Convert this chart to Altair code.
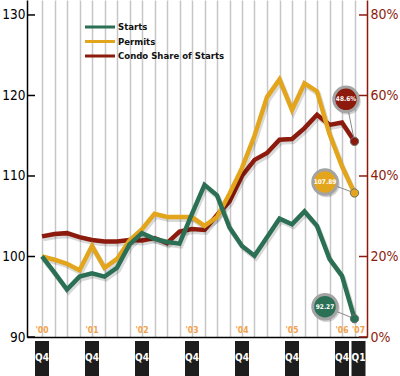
import altair as alt
import pandas as pd

# ---------------- data ----------------
quarters = [str(p) for p in pd.period_range("2000Q4", "2007Q1", freq="Q")]
starts = [100.0, 98.0, 95.9, 97.5, 97.9, 97.5, 98.6, 101.5, 102.9, 102.2, 101.8, 101.6, 105.3,
          108.9, 107.6, 103.6, 101.3, 100.1, 102.4, 104.7, 104.0, 105.6, 103.8, 99.7, 97.6, 92.27]
permits = [100.0, 99.6, 99.1, 98.3, 101.3, 98.6, 99.7, 102.0, 103.4, 105.3, 104.9, 104.9, 104.9,
           103.8, 104.9, 107.8, 111.0, 115.0, 119.8, 122.0, 118.2, 121.5, 120.5, 115.2, 111.2, 107.89]
condo_share = [25.0, 25.6, 25.8, 24.8, 24.1, 23.7, 23.7, 24.1, 24.0, 24.6, 23.3, 26.2, 26.8,
               26.6, 30.3, 33.7, 40.0, 44.0, 45.7, 49.0, 49.2, 51.9, 55.2, 52.7, 53.3, 48.6]
year_labels = ["'00", "'01", "'02", "'03", "'04", "'05", "'06", "'07"]
label_quarters = ["2000Q4", "2001Q4", "2002Q4", "2003Q4", "2004Q4", "2005Q4", "2006Q4", "2007Q1"]
left_ticks = [90, 100, 110, 120, 130]
right_ticks = [0, 20, 40, 60, 80]
series_names = ["Starts", "Permits", "Condo Share of Starts"]

# ---------------- styles ----------------
GREEN = "#2b6f55"
GOLD = "#e2a51c"
RED = "#8c1b0e"
ORANGE = "#f2a04a"
FONT = "'DejaVu Sans Condensed', 'Liberation Sans Narrow', 'Roboto Condensed', 'Arial Narrow', Roboto, sans-serif"
series_colors = [GREEN, GOLD, RED]

df = pd.DataFrame({"quarter": quarters, "starts": starts, "permits": permits, "condo": condo_share})
df["idx"] = range(len(df))
df["starts_label"] = df["starts"].map(lambda v: f"{v:.2f}")
df["permits_label"] = df["permits"].map(lambda v: f"{v:.2f}")
df["condo_label"] = df["condo"].map(lambda v: f"{v:.1f}%")
last = df.iloc[[-1]]

long_left = df.melt(id_vars=["idx"], value_vars=["starts", "permits"], var_name="series", value_name="value")

labels_df = pd.DataFrame({"year": year_labels, "quarter": label_quarters})
labels_df["idx"] = labels_df["quarter"].map(quarters.index)
labels_df["tag"] = labels_df["quarter"].str[-2:]

X_SCALE = alt.Scale(domain=[-1.2, 26], nice=False, zero=False)
LY_SCALE = alt.Scale(domain=[90, 131.86], nice=False, zero=False)
RY_SCALE = alt.Scale(domain=[0, 83.72], nice=False, zero=False)

X_AXIS = alt.Axis(values=list(range(len(quarters))), grid=True, gridColor="#c6c6c6", gridWidth=1.5,
                  labels=False, ticks=False, domain=True, domainColor="#000000", domainWidth=1.5,
                  title=None, orient="bottom")
L_AXIS = alt.Axis(values=left_ticks, orient="left", grid=False, ticks=False, domain=True,
                  domainColor="#000000", domainWidth=1.5, labelFont=FONT, labelFontSize=13.5,
                  labelColor="#000000", labelPadding=2, title=None)
R_AXIS = alt.Axis(values=right_ticks, orient="right", grid=False, ticks=False, domain=True,
                  domainColor=RED, domainWidth=1.5, labelFont=FONT, labelFontSize=14,
                  labelColor=RED, labelPadding=3, title=None, labelExpr="datum.value + '%'")


def xe(field="idx"):
    return alt.X(f"{field}:Q", scale=X_SCALE, axis=X_AXIS)


def ly(field):
    return alt.Y(f"{field}:Q", scale=LY_SCALE, axis=L_AXIS)


def ry(field):
    return alt.Y(f"{field}:Q", scale=RY_SCALE, axis=R_AXIS)


def badge_layers(field, yenc, color, label_field, dx, dy):
    conn = alt.Chart(last).mark_rule(color="#8a8a8a", strokeWidth=1, x2Offset=dx, y2Offset=dy).encode(
        x=xe(), y=yenc(field), x2=alt.X2("idx"), y2=alt.Y2(field))
    dot = alt.Chart(last).mark_circle(size=70, color=color, opacity=1, stroke="#6f6f6f", strokeWidth=1).encode(
        x=xe(), y=yenc(field))
    shadow = alt.Chart(last).mark_circle(size=700, color="#000000", opacity=0.18,
                                         xOffset=dx + 1.5, yOffset=dy + 2).encode(x=xe(), y=yenc(field))
    badge = alt.Chart(last).mark_circle(size=600, color=color, opacity=1, stroke="#a3a3a3", strokeWidth=3,
                                        xOffset=dx, yOffset=dy).encode(x=xe(), y=yenc(field))
    txt = alt.Chart(last).mark_text(color="white", font=FONT, fontSize=6.5, fontWeight="bold",
                                    dx=dx, dy=dy, baseline="middle", align="center").encode(
        x=xe(), y=yenc(field), text=f"{label_field}:N")
    return [conn, dot, shadow, badge, txt]


# ---------------- right (condo share) group ----------------
red_shadow = alt.Chart(df).mark_line(color="#000000", opacity=0.15, strokeWidth=5, xOffset=1.5, yOffset=2.5).encode(
    x=xe(), y=ry("condo"))
red_line = alt.Chart(df).mark_line(color=RED, strokeWidth=4.5).encode(x=xe(), y=ry("condo"))
r_ticks = alt.Chart(pd.DataFrame({"t": right_ticks})).mark_rule(color=RED, strokeWidth=1.5).encode(
    y=ry("t"), x=alt.value(332), x2=alt.value(340))
right_group = alt.layer(red_shadow, red_line, r_ticks,
                        *badge_layers("condo", ry, RED, "condo_label", -8.5, -42))

# ---------------- left group ----------------
left_shadow = alt.Chart(long_left).mark_line(color="#000000", opacity=0.15, strokeWidth=5,
                                             xOffset=1.5, yOffset=2.5).encode(
    x=xe(), y=ly("value"), detail="series:N")
gold_line = alt.Chart(df).mark_line(color=GOLD, strokeWidth=4.5).encode(x=xe(), y=ly("permits"))
green_line = alt.Chart(df).mark_line(color=GREEN, strokeWidth=4.5).encode(x=xe(), y=ly("starts"))
l_ticks = alt.Chart(pd.DataFrame({"t": left_ticks})).mark_rule(color="#000000", strokeWidth=1.5).encode(
    y=ly("t"), x=alt.value(0), x2=alt.value(8))

year_text = alt.Chart(labels_df.iloc[:-1]).mark_text(color=ORANGE, font=FONT, fontSize=8.5, fontWeight="bold",
                                                     baseline="bottom", align="center").encode(
    x=xe(), y=alt.value(335), text="year:N")
year_last = alt.Chart(labels_df.iloc[-1:]).mark_text(color=ORANGE, font=FONT, fontSize=8.5, fontWeight="bold",
                                                     baseline="bottom", align="center", dx=4).encode(
    x=xe(), y=alt.value(335), text="year:N")
boxes_q4 = alt.Chart(labels_df.iloc[:-1]).mark_rule(color="#1d1d1d", strokeWidth=14, strokeCap="butt").encode(
    x=xe(), y=alt.value(341), y2=alt.value(376))
box_q1 = alt.Chart(labels_df.iloc[-1:]).mark_rule(color="#1d1d1d", strokeWidth=14, strokeCap="butt",
                                                  xOffset=4).encode(
    x=xe(), y=alt.value(341), y2=alt.value(376))
tags_q4 = alt.Chart(labels_df.iloc[:-1]).mark_text(color="white", font=FONT, fontSize=10, fontWeight="bold",
                                                   baseline="middle", align="center").encode(
    x=xe(), y=alt.value(358), text="tag:N")
tag_q1 = alt.Chart(labels_df.iloc[-1:]).mark_text(color="white", font=FONT, fontSize=10, fontWeight="bold",
                                                  baseline="middle", align="center", dx=4).encode(
    x=xe(), y=alt.value(358), text="tag:N")

legend_layers = []
for k, (name, col) in enumerate(zip(series_names, series_colors)):
    ypix = 27 + 14.5 * k
    legend_layers.append(
        alt.Chart(pd.DataFrame({"name": [name]})).mark_rule(color=col, strokeWidth=3).encode(
            x=alt.value(58), x2=alt.value(88), y=alt.value(ypix)))
    legend_layers.append(
        alt.Chart(pd.DataFrame({"name": [name]})).mark_text(color="#111111", font=FONT, fontSize=9.5,
                                                            fontWeight="bold", align="left",
                                                            baseline="middle").encode(
            x=alt.value(91), y=alt.value(ypix), text="name:N"))

left_group = alt.layer(left_shadow, gold_line, green_line, l_ticks, year_text, year_last,
                       boxes_q4, box_q1, tags_q4, tag_q1,
                       *badge_layers("permits", ly, GOLD, "permits_label", -29.5, -11),
                       *badge_layers("starts", ly, GREEN, "starts_label", -29.5, -12),
                       *legend_layers)

chart = alt.layer(right_group, left_group).resolve_scale(y="independent").properties(
    width=340, height=337,
    autosize=alt.AutoSizeParams(type="none"),
    padding={"left": 27, "top": 0, "right": 33, "bottom": 39},
    background="white",
).configure_view(strokeWidth=0)

chart.save("out.html", embed_options={"renderer": "svg", "actions": False})
